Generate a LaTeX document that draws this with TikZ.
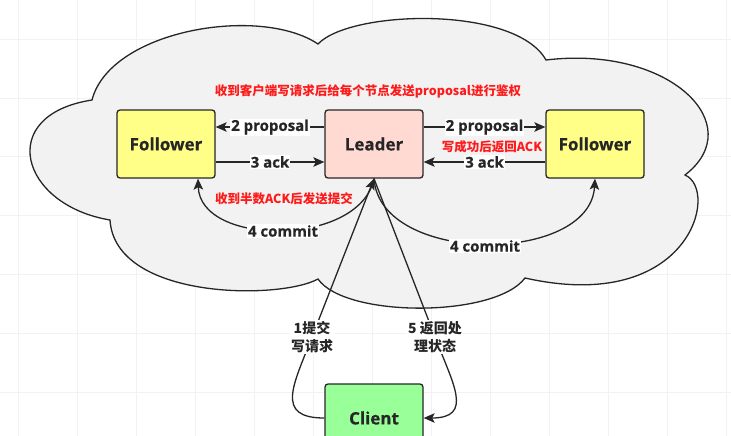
\documentclass[tikz,border=0pt]{standalone}
\usepackage{fontspec}
\setmainfont{Open Sans}[BoldFeatures={FakeBold=0.6}]
\newfontfamily\cjk{Noto Sans CJK SC}
\usetikzlibrary{arrows.meta}
\definecolor{ink}{HTML}{262626}
\definecolor{cloudfill}{HTML}{F2F2F2}
\definecolor{folfill}{HTML}{FFFF88}
\definecolor{leadfill}{HTML}{FFDAD2}
\definecolor{clifill}{HTML}{99FF99}
\definecolor{redtxt}{HTML}{FF1A1A}
\definecolor{gridc}{HTML}{F2F2F2}
\begin{document}
\begin{tikzpicture}[x=1pt,y=-1pt,
  box/.style={draw=ink, line width=1.3pt, rounded corners=3pt, minimum width=98pt, minimum height=68pt, inner sep=0pt, font=\fontsize{17}{20}\selectfont\bfseries, text=ink},
  arr/.style={draw=ink, line width=1.3pt, -{Stealth[length=11pt,width=9.5pt,inset=2.5pt]}},
  elab/.style={fill=white, inner sep=1pt, text=ink, font=\fontsize{15}{18}\selectfont\bfseries},
  clab/.style={fill=white, inner sep=1pt, text=ink, align=center, font=\cjk\fontsize{14}{18}\selectfont\bfseries},
  rlab/.style={text=redtxt, inner sep=0pt, font=\cjk\fontsize{12.5}{15}\selectfont\bfseries},
  cloudline/.style={draw=ink, fill=cloudfill, line width=1.3pt},
  gridline/.style={draw=gridc, line width=0.6pt}
]
\useasboundingbox (0,0) rectangle (731,436);
\clip (0,0) rectangle (731,436);
\fill[white] (0,0) rectangle (731,436);
\foreach \gx in {18,77,...,726} \draw[gridline] (\gx,0) -- (\gx,436);
\foreach \gy in {39,97.8,...,436} \draw[gridline] (0,\gy) -- (731,\gy);

% cloud
\draw[cloudline] (92,100) .. controls (110,30) and (260,5) .. (318,44)
  .. controls (350,10) and (515,5) .. (546,60)
  .. controls (670,45) and (750,125) .. (685,175)
  .. controls (720,190) and (690,315) .. (525,278)
  .. controls (495,318) and (345,318) .. (318,279)
  .. controls (280,300) and (115,300) .. (110,220)
  .. controls (20,205) and (-5,115) .. (92,100) -- cycle;

% nodes
\node[box, fill=folfill] (f1) at (166,144) {Follower};
\node[box, fill=leadfill] (ld) at (374,144) {Leader};
\node[box, fill=folfill] (f2) at (595,144) {Follower};
\node[box, fill=clifill] (cl) at (374,418) {Client};

% horizontal edges
\draw[arr] ([yshift=17pt]ld.west) -- node[elab] (e1) {2 proposal} ([yshift=17pt]f1.east);
\draw[arr] ([yshift=-18pt]f1.east) -- node[elab] (e2) {3 ack} ([yshift=-18pt]ld.west);
\draw[arr] ([yshift=17pt]ld.east) -- node[elab] (e3) {2 proposal} ([yshift=17pt]f2.west);
\draw[arr] ([yshift=-18pt]f2.west) -- node[elab] (e4) {3 ack} ([yshift=-18pt]ld.east);

% commit curves
\draw[arr] (ld.south) .. controls (360,247) and (200,247) .. ([xshift=32pt]f1.south);
\node[elab] (c1) at (283,231) {4 commit};
\draw[arr] (ld.south) .. controls (380,265) and (590,265) .. (f2.south);
\node[elab] (c2) at (485,246) {4 commit};

% client curves
\coordinate (p1) at (312,337);
\coordinate (p5) at (435,337);
\draw[arr] (cl.west) .. controls (274,418) and (294,384) .. (p1) -- (ld.south);
\draw[arr] (ld.south) -- (p5) .. controls (453,384) and (474,418) .. (cl.east);
\node[clab] (l1) at (p1) {1提交\\写请求};
\node[clab] (l5) at (p5) {5 返回处\\理状态};

% red notes
\node[rlab] (r1) at (368,91) {收到客户端写请求后给每个节点发送proposal进行鉴权};
\node[rlab] (r2) at (284,199) {收到半数ACK后发送提交};
\node[rlab] (r3) at (492,147) {写成功后返回ACK};
\end{tikzpicture}
\end{document}
